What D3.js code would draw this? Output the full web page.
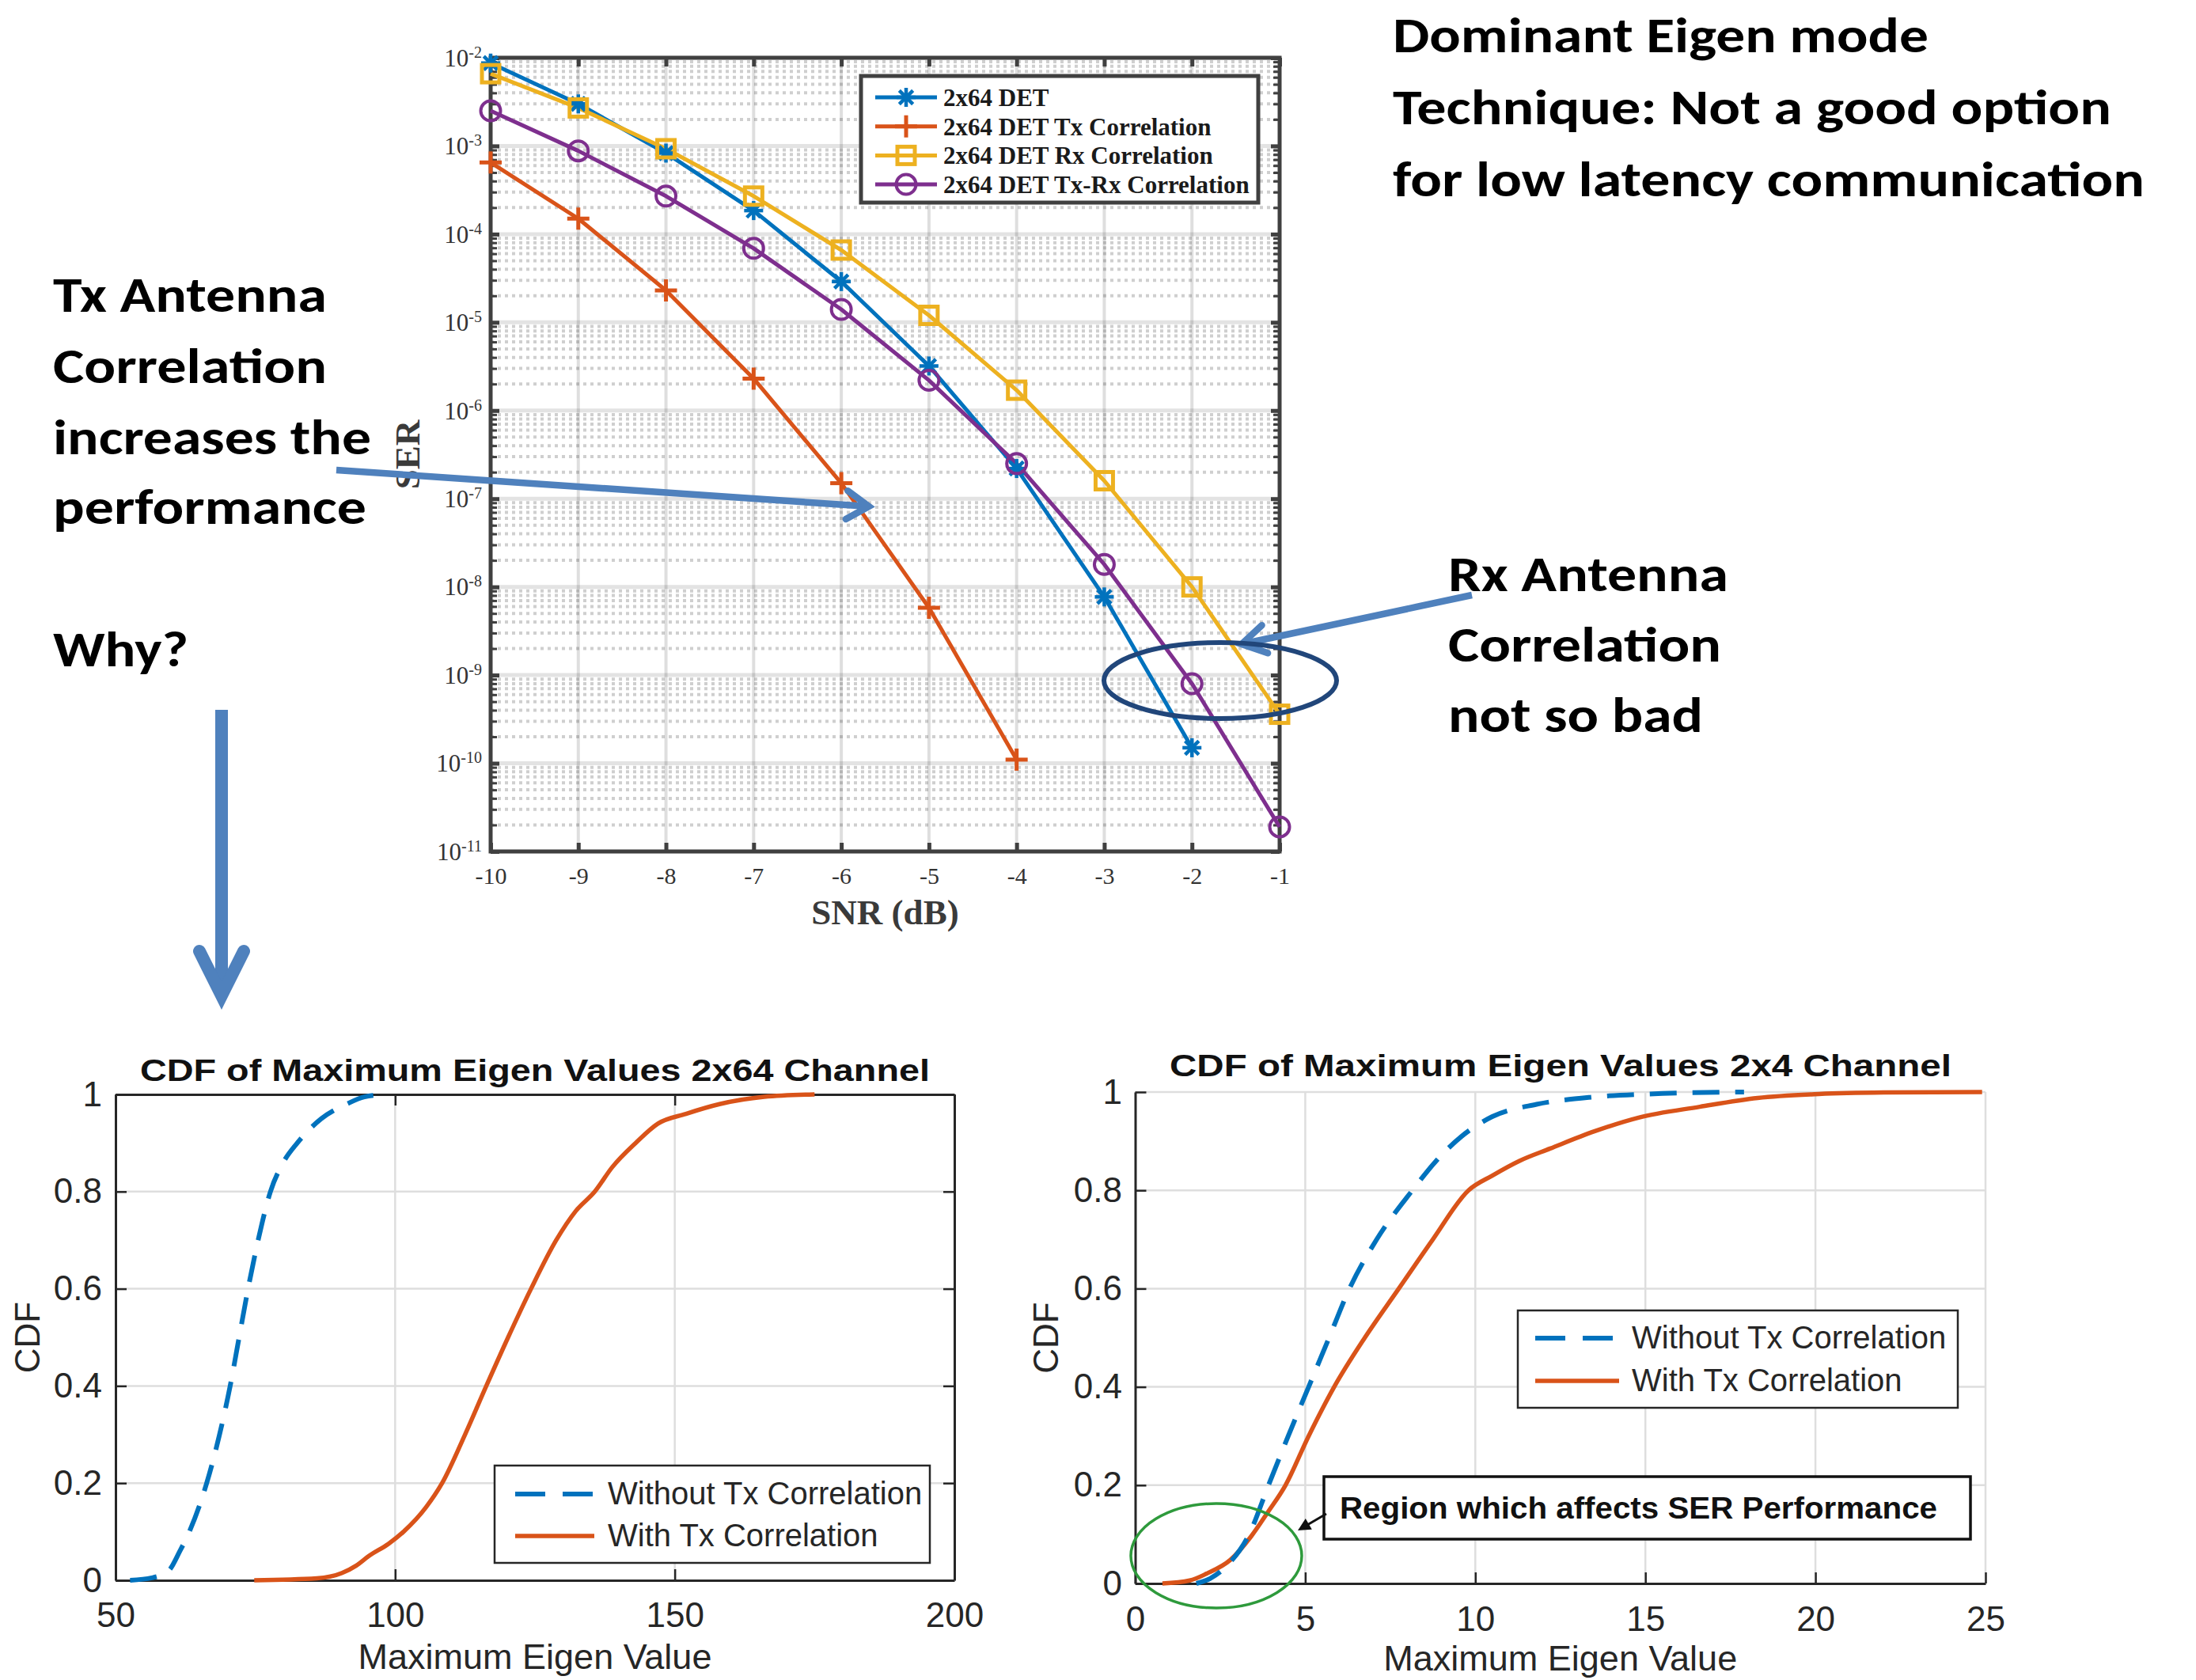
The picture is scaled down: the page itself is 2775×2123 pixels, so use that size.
<!DOCTYPE html>
<html>
<head>
<meta charset="utf-8">
<script src="https://cdn.jsdelivr.net/npm/d3@7"></script>
<style>
html,body{margin:0;padding:0;background:#fff;}
svg{display:block;}
</style>
</head>
<body>
<script>
// ---------------- DATA ----------------
const snr = [-10, -9, -8, -7, -6, -5, -4, -3, -2, -1];
const serDET   = [8.7e-3, 3.0e-3, 8.3e-4, 1.85e-4, 2.9e-5, 3.2e-6, 2.2e-7, 7.7e-9, 1.5e-10, null];
const serTx    = [6.5e-4, 1.5e-4, 2.3e-5, 2.3e-6, 1.5e-7, 5.8e-9, 1.1e-10, null, null, null];
const serRx    = [6.6e-3, 2.7e-3, 9.3e-4, 2.7e-4, 6.6e-5, 1.2e-5, 1.7e-6, 1.6e-7, 1.0e-8, 3.6e-10];
const serTxRx  = [2.5e-3, 8.8e-4, 2.7e-4, 6.9e-5, 1.4e-5, 2.2e-6, 2.5e-7, 1.8e-8, 8.0e-10, 1.9e-11];
const serNames = ["2x64 DET", "2x64 DET Tx Correlation", "2x64 DET Rx Correlation", "2x64 DET Tx-Rx Correlation"];
const serExponents = [-11, -10, -9, -8, -7, -6, -5, -4, -3, -2];

// CDF 2x64 channel
const cdf64WithoutX = [52.6, 56.5, 59.5, 61.5, 63.2, 66.3, 68.6, 70.5, 72.1, 73.7, 75.5, 77.7, 80.0, 82.5, 86.8, 91.3, 94.5, 98.5];
const cdf64WithoutY = [0, 0.005, 0.02, 0.06, 0.1, 0.2, 0.3, 0.4, 0.5, 0.6, 0.7, 0.8, 0.86, 0.9, 0.95, 0.98, 0.995, 1.0];
const cdf64WithX = [74.8, 86, 90.5, 93, 95.3, 98.8, 101.5, 105.5, 108.4, 112.5, 116.3, 120.2, 124.3, 128.8, 132.3, 135.7, 138.8, 143, 147, 152, 158, 166, 175];
const cdf64WithY = [0, 0.004, 0.015, 0.03, 0.05, 0.075, 0.1, 0.15, 0.2, 0.3, 0.4, 0.5, 0.6, 0.7, 0.76, 0.8, 0.85, 0.9, 0.94, 0.96, 0.98, 0.995, 1.0];
const cdf64XTicks = [50, 100, 150, 200];

// CDF 2x4 channel
const cdf4WithoutX = [1.8, 2.2, 2.75, 3.35, 3.92, 4.5, 5.1, 5.7, 6.3, 7.1, 8.15, 8.85, 9.6, 10.5, 11.8, 13.5, 15.5, 17.9];
const cdf4WithoutY = [0, 0.01, 0.04, 0.1, 0.2, 0.3, 0.4, 0.5, 0.6, 0.7, 0.8, 0.86, 0.91, 0.95, 0.975, 0.99, 0.997, 1.0];
const cdf4WithX = [0.8, 1.6, 2.1, 2.8, 3.4, 3.9, 4.42, 5.1, 5.85, 6.75, 7.75, 8.75, 9.8, 10.5, 11.3, 12.2, 13.5, 14.8, 16.6, 18.3, 20.1, 22, 24.9];
const cdf4WithY = [0, 0.006, 0.02, 0.048, 0.095, 0.145, 0.2, 0.3, 0.4, 0.5, 0.6, 0.7, 0.8, 0.83, 0.86, 0.885, 0.92, 0.948, 0.97, 0.988, 0.996, 0.999, 1.0];
const cdf4XTicks = [0, 5, 10, 15, 20, 25];
const cdfYTicks = [0, 0.2, 0.4, 0.6, 0.8, 1];
const cdfLegend = ["Without Tx Correlation", "With Tx Correlation"];

// ---------------- SETUP ----------------
const W = 2775, H = 2123;
const svg = d3.select("body").append("svg").attr("width", W).attr("height", H)
  .attr("viewBox", `0 0 ${W} ${H}`);
svg.append("rect").attr("width", W).attr("height", H).attr("fill", "#fff");

const SERIF = "'Liberation Serif','Times New Roman',serif";
const SANS = "'Liberation Sans',Arial,Helvetica,sans-serif";
const CAL = "Carlito,Calibri,Lato,'Open Sans',sans-serif";
const C_BLUE = "#0072BD", C_RED = "#D95319", C_YEL = "#EDB120", C_PUR = "#7E2F8E";

// ---------------- TOP SER CHART ----------------
const tx = d3.scaleLinear().domain([-10, -1]).range([620, 1617]);
const ty = d3.scaleLog().domain([1e-11, 1e-2]).range([1076, 73]);
const serG = svg.append("g");
const majors = serExponents.map(e => Math.pow(10, e));
const minors = [];
serExponents.slice(0, -1).forEach(e => { for (let k = 2; k <= 9; k++) minors.push(k * Math.pow(10, e)); });

const grid = serG.append("g");
grid.selectAll(".mn").data(minors).join("line")
  .attr("x1", tx(-10)).attr("x2", tx(-1)).attr("y1", d => ty(d)).attr("y2", d => ty(d))
  .attr("stroke", "rgba(0,0,0,0.19)").attr("stroke-width", 4).attr("stroke-dasharray", "4,5");
grid.selectAll(".mj").data(majors).join("line")
  .attr("x1", tx(-10)).attr("x2", tx(-1)).attr("y1", d => ty(d)).attr("y2", d => ty(d))
  .attr("stroke", "rgba(0,0,0,0.11)").attr("stroke-width", 5);
grid.selectAll(".vx").data(snr).join("line")
  .attr("x1", d => tx(d)).attr("x2", d => tx(d)).attr("y1", ty(1e-2)).attr("y2", ty(1e-11))
  .attr("stroke", "rgba(0,0,0,0.13)").attr("stroke-width", 4);

function styleAxis(g, col, w) {
  g.select(".domain").remove();
  g.selectAll(".tick line").attr("stroke", col).attr("stroke-width", w);
}
const axCol = "#404040";
const gB = serG.append("g").attr("transform", `translate(0,${ty(1e-11)})`)
  .call(d3.axisBottom(tx).tickValues(snr).tickSize(-11).tickPadding(20).tickFormat(d => String(d)));
styleAxis(gB, axCol, 5);
gB.selectAll("text").attr("font-family", SERIF).attr("font-size", 30).attr("fill", "#333");
const gT = serG.append("g").attr("transform", `translate(0,${ty(1e-2)})`)
  .call(d3.axisTop(tx).tickValues(snr).tickSize(-11).tickFormat(""));
styleAxis(gT, axCol, 5);
const gL = serG.append("g").attr("transform", `translate(${tx(-10)},0)`)
  .call(d3.axisLeft(ty).tickValues(majors).tickSize(-11).tickPadding(11).tickFormat(""));
styleAxis(gL, axCol, 5);
gL.selectAll(".tick").each(function (d) {
  const e = Math.round(Math.log10(d));
  const t = d3.select(this).select("text")
    .attr("font-family", SERIF).attr("font-size", 31).attr("fill", "#333").attr("dy", "0.33em").text(null);
  t.append("tspan").text("10");
  t.append("tspan").attr("font-size", 20).attr("dy", -11).text(String(e));
});
const gLm = serG.append("g").attr("transform", `translate(${tx(-10)},0)`)
  .call(d3.axisLeft(ty).tickValues(minors).tickSize(-8).tickFormat(""));
styleAxis(gLm, axCol, 3);
const gR = serG.append("g").attr("transform", `translate(${tx(-1)},0)`)
  .call(d3.axisRight(ty).tickValues(majors).tickSize(-11).tickFormat(""));
styleAxis(gR, axCol, 5);
const gRm = serG.append("g").attr("transform", `translate(${tx(-1)},0)`)
  .call(d3.axisRight(ty).tickValues(minors).tickSize(-8).tickFormat(""));
styleAxis(gRm, axCol, 3);
serG.append("rect").attr("x", tx(-10)).attr("y", ty(1e-2))
  .attr("width", tx(-1) - tx(-10)).attr("height", ty(1e-11) - ty(1e-2))
  .attr("fill", "none").attr("stroke", axCol).attr("stroke-width", 5);

const series = [
  { vals: serDET, color: C_BLUE, marker: "star" },
  { vals: serTx, color: C_RED, marker: "plus" },
  { vals: serRx, color: C_YEL, marker: "square" },
  { vals: serTxRx, color: C_PUR, marker: "circle" }
];
function drawMarker(g, type, color, cx, cy) {
  const m = g.append("g").attr("transform", `translate(${cx},${cy})`)
    .attr("stroke", color).attr("fill", "none");
  if (type === "star") {
    const r = 12, q = r * 0.72;
    [[-r, 0, r, 0], [0, -r, 0, r], [-q, -q, q, q], [-q, q, q, -q]].forEach(s =>
      m.append("line").attr("x1", s[0]).attr("y1", s[1]).attr("x2", s[2]).attr("y2", s[3]).attr("stroke-width", 4.5));
  } else if (type === "plus") {
    const r = 14;
    [[-r, 0, r, 0], [0, -r, 0, r]].forEach(s =>
      m.append("line").attr("x1", s[0]).attr("y1", s[1]).attr("x2", s[2]).attr("y2", s[3]).attr("stroke-width", 5));
  } else if (type === "square") {
    m.append("rect").attr("x", -11).attr("y", -11).attr("width", 22).attr("height", 22).attr("stroke-width", 5);
  } else {
    m.append("circle").attr("r", 12.5).attr("stroke-width", 4);
  }
}
const serLine = d3.line().defined(d => d[1] != null).x(d => tx(d[0])).y(d => ty(d[1]));
series.forEach(s => {
  const pts = snr.map((x, i) => [x, s.vals[i]]);
  serG.append("path").attr("d", serLine(pts)).attr("fill", "none")
    .attr("stroke", s.color).attr("stroke-width", 5).attr("stroke-linejoin", "round");
});
series.forEach(s => {
  snr.forEach((x, i) => { if (s.vals[i] != null) drawMarker(serG, s.marker, s.color, tx(x), ty(s.vals[i])); });
});

const lg = serG.append("g");
lg.append("rect").attr("x", 1088).attr("y", 96).attr("width", 502).attr("height", 160)
  .attr("fill", "#fff").attr("stroke", axCol).attr("stroke-width", 5);
series.forEach((s, i) => {
  const cy = 123 + i * 36.7;
  lg.append("line").attr("x1", 1106).attr("x2", 1184).attr("y1", cy).attr("y2", cy)
    .attr("stroke", s.color).attr("stroke-width", 5);
  drawMarker(lg, s.marker, s.color, 1145, cy);
  lg.append("text").attr("x", 1192).attr("y", cy + 11).attr("font-family", SERIF)
    .attr("font-weight", "bold").attr("font-size", 31).attr("fill", "#1a1a1a").text(serNames[i]);
});

serG.append("text").attr("x", (tx(-10) + tx(-1)) / 2).attr("y", 1168).attr("text-anchor", "middle")
  .attr("font-family", SERIF).attr("font-weight", "bold").attr("font-size", 45).attr("fill", "#3a3a3a")
  .text("SNR (dB)");
serG.append("text").attr("transform", `translate(530,${(ty(1e-2) + ty(1e-11)) / 2}) rotate(-90)`)
  .attr("text-anchor", "middle").attr("font-family", SERIF).attr("font-weight", "bold")
  .attr("font-size", 45).attr("fill", "#3a3a3a").text("SER");

// ---------------- CDF CHARTS ----------------
function drawCDF(cfg) {
  const g = svg.append("g");
  const x = d3.scaleLinear().domain(cfg.xDomain).range(cfg.xRange);
  const y = d3.scaleLinear().domain([0, 1]).range(cfg.yRange);
  const [x0, x1] = cfg.xRange, [y0, y1] = cfg.yRange;
  const gx = cfg.xTicks.filter(v => cfg.box ? (v !== cfg.xDomain[0] && v !== cfg.xDomain[1]) : v !== cfg.xDomain[0]);
  const gy = cdfYTicks.filter(v => cfg.box ? (v !== 0 && v !== 1) : v !== 0);
  g.selectAll(".gx").data(gx).join("line").attr("x1", d => x(d)).attr("x2", d => x(d))
    .attr("y1", y0).attr("y2", y1).attr("stroke", "#dedede").attr("stroke-width", 2.5);
  g.selectAll(".gy").data(gy).join("line").attr("y1", d => y(d)).attr("y2", d => y(d))
    .attr("x1", x0).attr("x2", x1).attr("stroke", "#dedede").attr("stroke-width", 2.5);
  const ac = "#262626";
  const aB = g.append("g").attr("transform", `translate(0,${y0})`)
    .call(d3.axisBottom(x).tickValues(cfg.xTicks).tickSizeInner(-14).tickSizeOuter(0)
      .tickPadding(cfg.xPad).tickFormat(d3.format("~g")));
  const aL = g.append("g").attr("transform", `translate(${x0},0)`)
    .call(d3.axisLeft(y).tickValues(cdfYTicks).tickSizeInner(-14).tickSizeOuter(0)
      .tickPadding(cfg.yPad).tickFormat(d3.format("~g")));
  [aB, aL].forEach(a => {
    a.select(".domain").attr("stroke", ac).attr("stroke-width", 3);
    a.selectAll(".tick line").attr("stroke", ac).attr("stroke-width", 2.5);
    a.selectAll("text").attr("font-family", SANS).attr("font-size", 44).attr("fill", "#262626");
  });
  if (cfg.box) {
    const aT = g.append("g").attr("transform", `translate(0,${y1})`)
      .call(d3.axisTop(x).tickValues(cfg.xTicks).tickSizeInner(-14).tickSizeOuter(0).tickFormat(""));
    const aR = g.append("g").attr("transform", `translate(${x1},0)`)
      .call(d3.axisRight(y).tickValues(cdfYTicks).tickSizeInner(-14).tickSizeOuter(0).tickFormat(""));
    [aT, aR].forEach(a => {
      a.select(".domain").attr("stroke", ac).attr("stroke-width", 3);
      a.selectAll(".tick line").attr("stroke", ac).attr("stroke-width", 2.5);
    });
  }
  const ln = d3.line().x(d => x(d[0])).y(d => y(d[1])).curve(d3.curveMonotoneX);
  g.append("path").attr("d", ln(cfg.withX.map((v, i) => [v, cfg.withY[i]])))
    .attr("fill", "none").attr("stroke", C_RED).attr("stroke-width", 5.5);
  g.append("path").attr("d", ln(cfg.woX.map((v, i) => [v, cfg.woY[i]])))
    .attr("fill", "none").attr("stroke", C_BLUE).attr("stroke-width", 6).attr("stroke-dasharray", "34,20");
  g.append("text").attr("x", cfg.titleX).attr("y", cfg.titleY).attr("text-anchor", "middle")
    .attr("font-family", SANS).attr("font-weight", "bold").attr("font-size", 39).attr("fill", "#111")
    .attr("textLength", cfg.titleLen).attr("lengthAdjust", "spacingAndGlyphs").text(cfg.title);
  g.append("text").attr("transform", `translate(${cfg.ylabX},${(y0 + y1) / 2}) rotate(-90)`)
    .attr("text-anchor", "middle").attr("font-family", SANS).attr("font-size", 44).attr("fill", "#262626").text("CDF");
  g.append("text").attr("x", (x0 + x1) / 2).attr("y", cfg.xlabY).attr("text-anchor", "middle")
    .attr("font-family", SANS).attr("font-size", 45).attr("fill", "#262626").text("Maximum Eigen Value");
  const L = cfg.leg;
  g.append("rect").attr("x", L.x).attr("y", L.y).attr("width", L.w).attr("height", L.h)
    .attr("fill", "#fff").attr("stroke", ac).attr("stroke-width", 2.5);
  const cols = [[C_BLUE, "38,22", 6], [C_RED, null, 5.5]];
  cdfLegend.forEach((t, i) => {
    const cy = L.ly[i];
    g.append("line").attr("x1", L.lx1).attr("x2", L.lx2).attr("y1", cy).attr("y2", cy)
      .attr("stroke", cols[i][0]).attr("stroke-width", cols[i][2]).attr("stroke-dasharray", cols[i][1]);
    g.append("text").attr("x", L.tx).attr("y", cy + 13).attr("font-family", SANS)
      .attr("font-size", 40).attr("fill", "#262626").text(t);
  });
  return { g, x, y };
}

drawCDF({
  xDomain: [50, 200], xRange: [146, 1206], yRange: [1997, 1383], xTicks: cdf64XTicks, box: true,
  xPad: 28, yPad: 17,
  woX: cdf64WithoutX, woY: cdf64WithoutY, withX: cdf64WithX, withY: cdf64WithY,
  title: "CDF of Maximum Eigen Values 2x64 Channel", titleX: 676, titleY: 1366, titleLen: 998,
  ylabX: 50, xlabY: 2109,
  leg: { x: 625, y: 1852, w: 550, h: 123, lx1: 651, lx2: 751, ly: [1888, 1941], tx: 768 }
});

drawCDF({
  xDomain: [0, 25], xRange: [1434.5, 2509], yRange: [2001, 1380], xTicks: cdf4XTicks, box: false,
  xPad: 29, yPad: 16.5,
  woX: cdf4WithoutX, woY: cdf4WithoutY, withX: cdf4WithX, withY: cdf4WithY,
  title: "CDF of Maximum Eigen Values 2x4 Channel", titleX: 1972, titleY: 1360, titleLen: 988,
  ylabX: 1337, xlabY: 2111,
  leg: { x: 1918, y: 1656, w: 556, h: 123, lx1: 1940, lx2: 2046, ly: [1691, 1745], tx: 2062 }
});

// region annotation (right chart)
const ann = svg.append("g");
ann.append("rect").attr("x", 1673).attr("y", 1866).attr("width", 817).attr("height", 79)
  .attr("fill", "#fff").attr("stroke", "#111").attr("stroke-width", 3.5);
ann.append("text").attr("x", 1693).attr("y", 1919).attr("font-family", SANS).attr("font-weight", "bold")
  .attr("font-size", 38).attr("fill", "#111").attr("textLength", 755).attr("lengthAdjust", "spacingAndGlyphs")
  .text("Region which affects SER Performance");
function headPts(x1, y1, x2, y2, len, half) {
  const dx = x2 - x1, dy = y2 - y1, L = Math.hypot(dx, dy), ux = dx / L, uy = dy / L;
  const bx = x2 - ux * len, by = y2 - uy * len;
  return [[bx - uy * half, by + ux * half], [x2, y2], [bx + uy * half, by - ux * half]];
}
{
  const p = headPts(1676, 1913, 1640, 1934, 16, 8);
  ann.append("line").attr("x1", 1676).attr("y1", 1913).attr("x2", 1652).attr("y2", 1927)
    .attr("stroke", "#111").attr("stroke-width", 3);
  ann.append("path").attr("d", "M" + p.map(q => q.join(",")).join("L") + "Z").attr("fill", "#111");
}
ann.append("ellipse").attr("cx", 1537).attr("cy", 1966).attr("rx", 108).attr("ry", 66)
  .attr("fill", "none").attr("stroke", "#2e9a3c").attr("stroke-width", 3.5);

// ---------------- SLIDE ANNOTATIONS ----------------
const A_BLUE = "#4F81BD";
const notes = svg.append("g").attr("font-family", CAL).attr("font-weight", "bold").attr("fill", "#000").attr("font-size", 62);
const noteLines = [
  ["Dominant Eigen mode", 1760, 66, 677],
  ["Technique: Not a good option", 1760, 157, 908],
  ["for low latency communication", 1760, 248, 950],
  ["Tx Antenna", 67, 394, 346],
  ["Correlation", 67, 484, 346],
  ["increases the", 67, 574, 402],
  ["performance", 67, 662, 396],
  ["Why?", 67, 842, 171],
  ["Rx Antenna", 1830, 747, 354],
  ["Correlation", 1830, 836, 345],
  ["not so bad", 1830, 925, 322]
];
noteLines.forEach(n => notes.append("text").attr("x", n[1]).attr("y", n[2])
  .attr("textLength", n[3]).attr("lengthAdjust", "spacingAndGlyphs").text(n[0]));

const arrows = svg.append("g").attr("stroke", A_BLUE).attr("fill", "none");
function blueArrow(x1, y1, x2, y2, w, len, half) {
  arrows.append("line").attr("x1", x1).attr("y1", y1).attr("x2", x2).attr("y2", y2)
    .attr("stroke-width", w);
  const p = headPts(x1, y1, x2, y2, len, half);
  arrows.append("path").attr("d", "M" + p.map(q => q.join(",")).join("L"))
    .attr("stroke-width", w).attr("stroke-linecap", "round").attr("stroke-linejoin", "miter");
}
blueArrow(425, 594, 1098, 640, 8.5, 28, 18);
blueArrow(1860, 752, 1569, 814, 8.5, 30, 18);
blueArrow(280, 897, 280, 1258, 16, 56, 28);

svg.append("ellipse").attr("cx", 1542).attr("cy", 860).attr("rx", 147).attr("ry", 48)
  .attr("fill", "none").attr("stroke", "#21467a").attr("stroke-width", 6);
</script>
</body>
</html>
